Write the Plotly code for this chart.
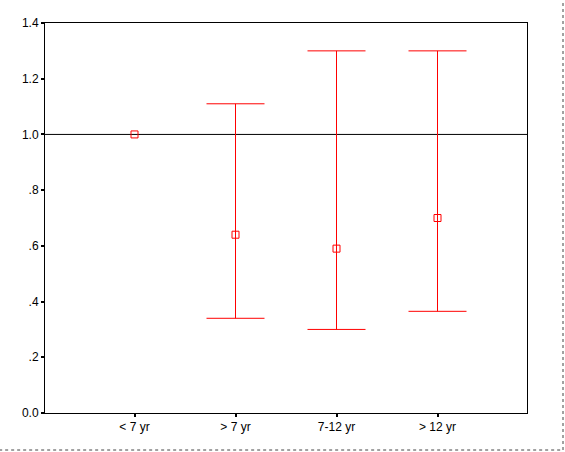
import plotly.graph_objects as go

categories = ["< 7 yr", "> 7 yr", "7-12 yr", "> 12 yr"]
means = [1.0, 0.64, 0.59, 0.70]
upper = [None, 1.11, 1.30, 1.30]
lower = [None, 0.34, 0.30, 0.365]
ytick_vals = [0.0, 0.2, 0.4, 0.6, 0.8, 1.0, 1.2, 1.4]
ytick_text = ["0.0", ".2", ".4", ".6", ".8", "1.0", "1.2", "1.4"]

xpos = list(range(1, len(categories) + 1))
red = "#ff0000"

fig = go.Figure()

# points without intervals
nx = [x for x, u in zip(xpos, upper) if u is None]
ny = [m for m, u in zip(means, upper) if u is None]
fig.add_trace(go.Scatter(x=nx, y=ny, mode="markers",
                         marker=dict(symbol="square-open", size=7, color=red, line=dict(width=1, color=red)),
                         showlegend=False, hoverinfo="skip"))

# points with intervals
ex = [x for x, u in zip(xpos, upper) if u is not None]
ey = [m for m, u in zip(means, upper) if u is not None]
eu = [u - m for m, u in zip(means, upper) if u is not None]
el = [m - l for m, l, u in zip(means, lower, upper) if u is not None]
fig.add_trace(go.Scatter(x=ex, y=ey, mode="markers",
                         marker=dict(symbol="square-open", size=7, color=red, line=dict(width=1, color=red)),
                         error_y=dict(type="data", symmetric=False, array=eu, arrayminus=el,
                                      color=red, thickness=1, width=29),
                         showlegend=False, hoverinfo="skip"))

fig.add_shape(type="line", xref="paper", yref="y", x0=0, x1=1, y0=1.0, y1=1.0,
              line=dict(color="black", width=1), layer="below")

# outer dotted border (screenshot frame)
fig.add_shape(type="line", xref="paper", yref="paper", x0=1.0747, x1=1.0747, y0=-0.0949, y1=1.06,
              line=dict(color="#444444", width=1, dash="dot"))
fig.add_shape(type="line", xref="paper", yref="paper", x0=-0.12, x1=1.0747, y0=-0.0949, y1=-0.0949,
              line=dict(color="#444444", width=1, dash="dot"))

fig.update_layout(
    width=565, height=452,
    margin=dict(l=45, r=38, t=23, b=39),
    paper_bgcolor="white", plot_bgcolor="white",
    font=dict(family="Liberation Sans, Arial, sans-serif", size=12, color="black"),
    xaxis=dict(range=[0.11386, 4.88614], tickvals=xpos, ticktext=categories,
               showline=True, linecolor="black", linewidth=1, mirror=True,
               ticks="outside", ticklen=3, tickwidth=2, tickcolor="black",
               showgrid=False, zeroline=False, fixedrange=True),
    yaxis=dict(range=[0, 1.4], tickvals=ytick_vals, ticktext=ytick_text,
               showline=True, linecolor="black", linewidth=1, mirror=True,
               ticks="outside", ticklen=3, tickwidth=2, tickcolor="black",
               showgrid=False, zeroline=False, fixedrange=True),
)

fig.write_html("out.html", config={"displayModeBar": False},
               post_script="document.body.style.margin='0';document.body.style.overflow='hidden';")
